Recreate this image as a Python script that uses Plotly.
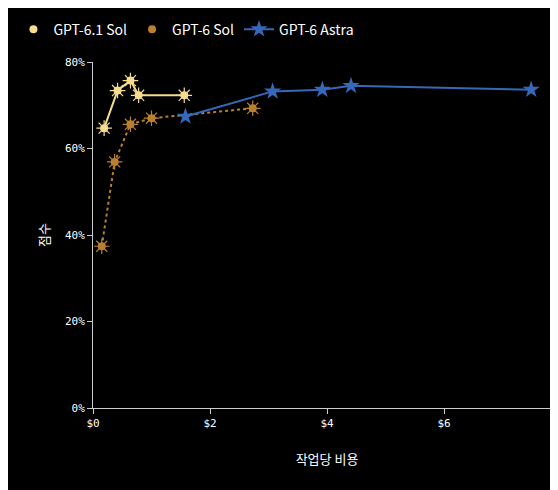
import plotly.graph_objects as go

sol61_cost = [0.19, 0.42, 0.64, 0.78, 1.56]
sol61_score = [64.7, 73.4, 75.7, 72.3, 72.3]
sol6_cost = [0.15, 0.37, 0.64, 1.0, 2.73]
sol6_score = [37.4, 56.9, 65.6, 67.0, 69.3]
astra_cost = [1.58, 3.07, 3.92, 4.41, 7.49]
astra_score = [67.4, 73.2, 73.6, 74.5, 73.6]

fig = go.Figure()


def sun(x, y, name, color, dash):
    fig.add_trace(go.Scatter(x=x, y=y, mode="lines", line=dict(color=color, width=2, dash=dash),
                             showlegend=False, hoverinfo="skip"))
    fig.add_trace(go.Scatter(x=x, y=y, mode="markers", showlegend=False, hoverinfo="skip",
                             marker=dict(symbol="asterisk-open", size=13, color=color,
                                         line=dict(color=color, width=1.2))))
    fig.add_trace(go.Scatter(x=x, y=y, mode="markers", name=name,
                             marker=dict(symbol="circle", size=8, color=color, line=dict(width=0))))


sun(sol61_cost, sol61_score, "GPT-6.1 Sol", "#f6dc8e", "solid")
sun(sol6_cost, sol6_score, "GPT-6 Sol", "#b8802f", "dot")
fig.add_trace(go.Scatter(x=astra_cost, y=astra_score, mode="lines+markers", name="GPT-6 Astra",
                         line=dict(color="#3568b8", width=2),
                         marker=dict(symbol="star", size=13, color="#3568b8")))

axis_font = dict(family="DejaVu Sans Mono", size=11, color="#ffffff")
fig.update_layout(
    width=558, height=490, paper_bgcolor="#000000", plot_bgcolor="#000000",
    margin=dict(l=82, r=5, t=51, b=90),
    font=dict(family="Noto Sans CJK KR", color="#ffffff"),
    legend=dict(orientation="h", x=-0.17, y=1.14, xanchor="left", yanchor="top",
                font=dict(size=14, color="#ffffff"), bgcolor="rgba(0,0,0,0)"),
    xaxis=dict(range=[0, 8], tickvals=[0, 2, 4, 6, 8], ticktext=["$0", "$2", "$4", "$6", "$8"],
               showgrid=False, zeroline=False, showline=True, linecolor="#cccccc",
               ticks="outside", tickcolor="#cccccc", ticklen=5, tickfont=axis_font,
               title=dict(text="작업당 비용", font=dict(size=13, color="#ffffff"), standoff=25)),
    yaxis=dict(range=[0, 80], tickvals=[0, 20, 40, 60, 80], ticktext=["0%", "20%", "40%", "60%", "80%"],
               showgrid=False, zeroline=False, showline=True, linecolor="#cccccc",
               ticks="outside", tickcolor="#cccccc", ticklen=5, tickfont=axis_font,
               title=dict(text="점수", font=dict(size=13, color="#ffffff"), standoff=12)),
)
fig.write_html("out.html")
